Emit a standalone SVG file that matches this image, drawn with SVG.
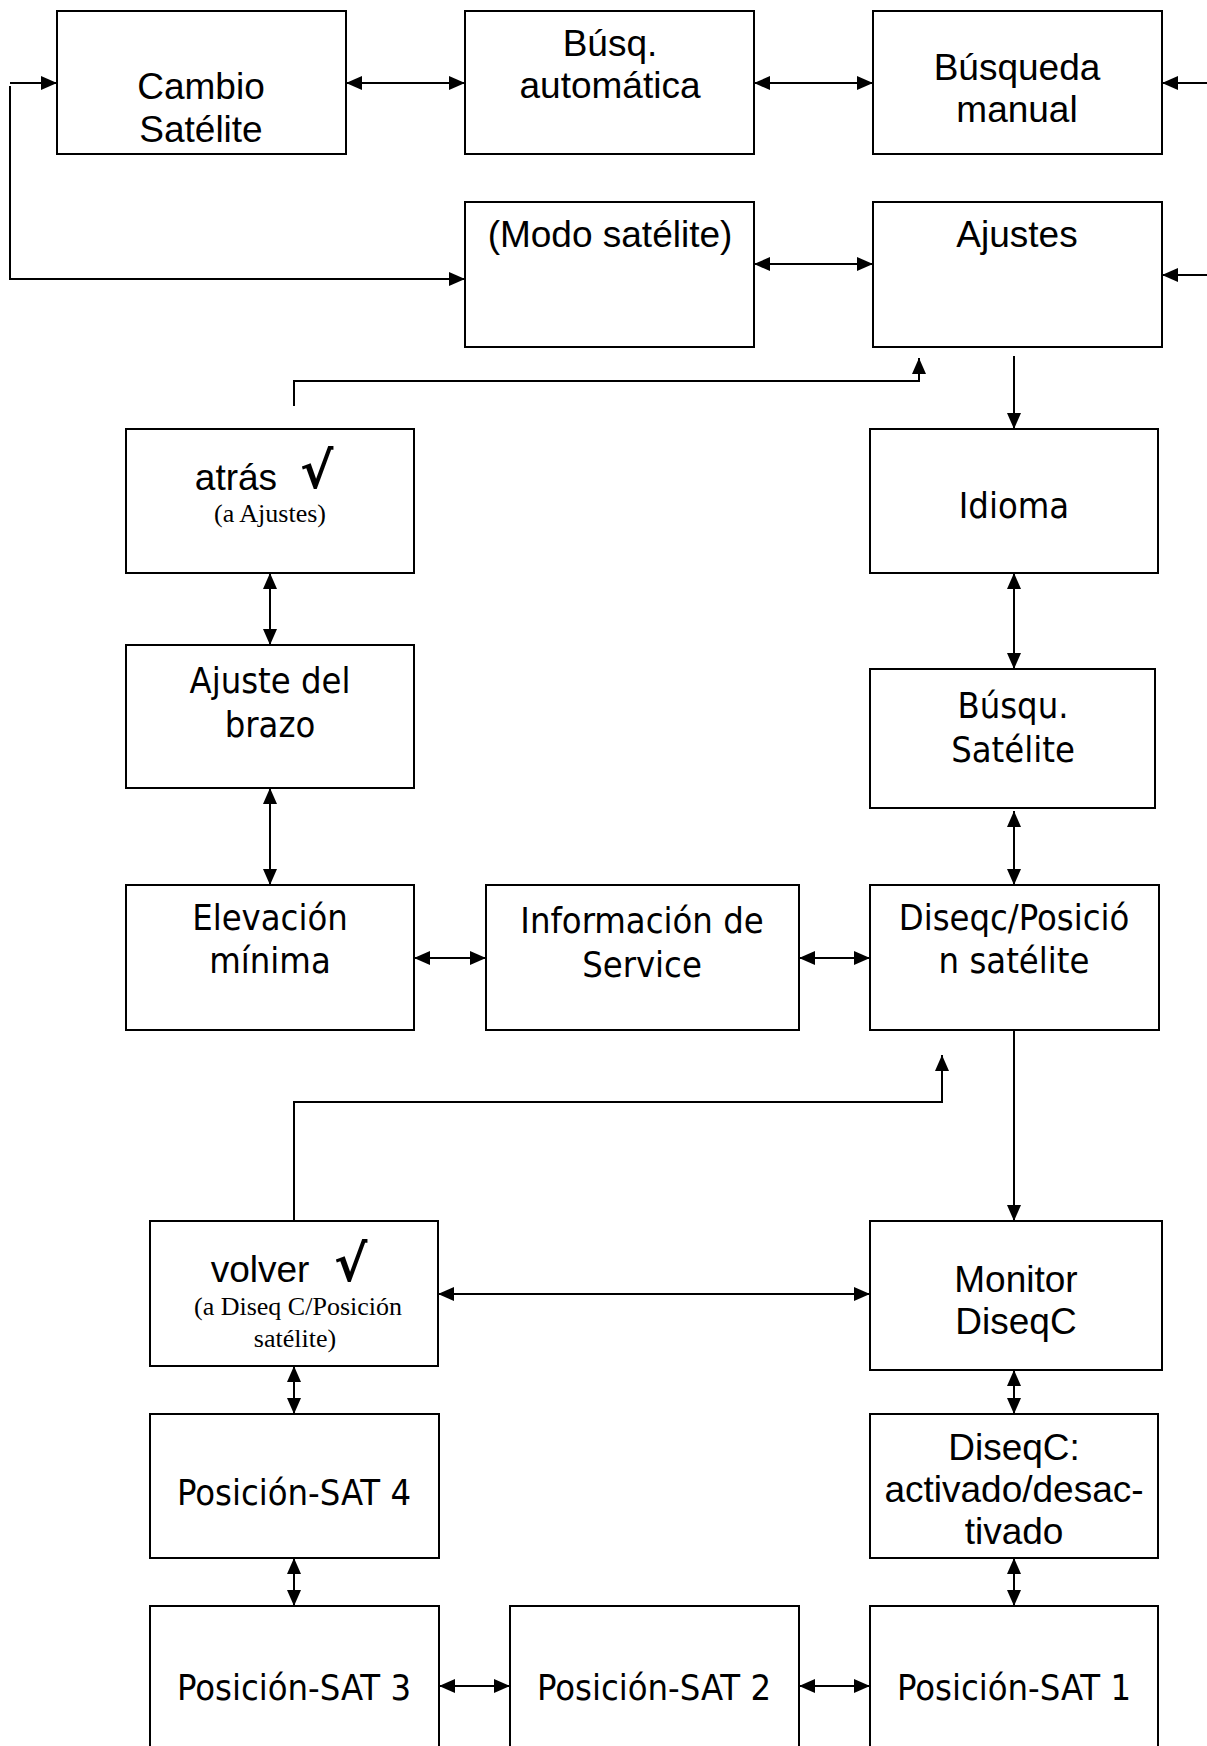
<svg xmlns="http://www.w3.org/2000/svg" width="1207" height="1746" viewBox="0 0 1207 1746">
<defs>
<style>
.box{fill:#fff;stroke:#000;stroke-width:2}
.ln{fill:none;stroke:#000;stroke-width:2}
.a{font-family:"Liberation Sans",Arial,sans-serif;font-size:37px;fill:#000;text-anchor:middle}
.t{font-family:"DejaVu Sans Condensed","DejaVu Sans",sans-serif;font-stretch:condensed;font-size:36px;fill:#000;text-anchor:middle}
.s{font-family:"Liberation Serif","Times New Roman",serif;font-size:26px;fill:#000;text-anchor:middle}
.ck{font-family:"DejaVu Sans",sans-serif;font-size:50px;font-weight:bold;fill:#000}
</style>
<marker id="ah" markerUnits="userSpaceOnUse" markerWidth="18" markerHeight="16" refX="16" refY="8" orient="auto-start-reverse">
<path d="M0,1 L16,8 L0,15 z" fill="#000"/>
</marker>
</defs>
<rect width="1207" height="1746" fill="#fff"/>
<g id="connectors">
<path class="ln" d="M10,83 L57,83" marker-end="url(#ah)"/>
<path class="ln" d="M10,86 L10,279 L465,279" marker-end="url(#ah)"/>
<path class="ln" d="M346,83 L465,83" marker-start="url(#ah)" marker-end="url(#ah)"/>
<path class="ln" d="M754,83 L873,83" marker-start="url(#ah)" marker-end="url(#ah)"/>
<path class="ln" d="M1207,83 L1162,83" marker-end="url(#ah)"/>
<path class="ln" d="M754,264 L873,264" marker-start="url(#ah)" marker-end="url(#ah)"/>
<path class="ln" d="M1207,275 L1162,275" marker-end="url(#ah)"/>
<path class="ln" d="M294,406 L294,381 L919,381 L919,358" marker-end="url(#ah)"/>
<path class="ln" d="M1014,356 L1014,429" marker-end="url(#ah)"/>
<path class="ln" d="M1014,573 L1014,669" marker-start="url(#ah)" marker-end="url(#ah)"/>
<path class="ln" d="M270,573 L270,645" marker-start="url(#ah)" marker-end="url(#ah)"/>
<path class="ln" d="M270,788 L270,885" marker-start="url(#ah)" marker-end="url(#ah)"/>
<path class="ln" d="M1014,811 L1014,885" marker-start="url(#ah)" marker-end="url(#ah)"/>
<path class="ln" d="M414,958 L486,958" marker-start="url(#ah)" marker-end="url(#ah)"/>
<path class="ln" d="M799,958 L870,958" marker-start="url(#ah)" marker-end="url(#ah)"/>
<path class="ln" d="M1014,1030 L1014,1221" marker-end="url(#ah)"/>
<path class="ln" d="M294,1221 L294,1102 L942,1102 L942,1055" marker-end="url(#ah)"/>
<path class="ln" d="M438,1294 L870,1294" marker-start="url(#ah)" marker-end="url(#ah)"/>
<path class="ln" d="M294,1366 L294,1414" marker-start="url(#ah)" marker-end="url(#ah)"/>
<path class="ln" d="M294,1558 L294,1606" marker-start="url(#ah)" marker-end="url(#ah)"/>
<path class="ln" d="M1014,1370 L1014,1414" marker-start="url(#ah)" marker-end="url(#ah)"/>
<path class="ln" d="M1014,1558 L1014,1606" marker-start="url(#ah)" marker-end="url(#ah)"/>
<path class="ln" d="M439,1686 L510,1686" marker-start="url(#ah)" marker-end="url(#ah)"/>
<path class="ln" d="M799,1686 L870,1686" marker-start="url(#ah)" marker-end="url(#ah)"/>
</g>
<g id="cambio"><rect class="box" x="57" y="11" width="289" height="143"/><text class="a" x="201" y="99">Cambio</text><text class="a" x="201" y="142">Satélite</text></g>
<g id="busq-auto"><rect class="box" x="465" y="11" width="289" height="143"/><text class="a" x="610" y="56">Búsq.</text><text class="a" x="610" y="98">automática</text></g>
<g id="busq-manual"><rect class="box" x="873" y="11" width="289" height="143"/><text class="a" x="1017" y="80">Búsqueda</text><text class="a" x="1017" y="122">manual</text></g>
<g id="modo"><rect class="box" x="465" y="202" width="289" height="145"/><text class="a" x="610" y="247">(Modo satélite)</text></g>
<g id="ajustes"><rect class="box" x="873" y="202" width="289" height="145"/><text class="a" x="1017" y="247">Ajustes</text></g>
<g id="atras"><rect class="box" x="126" y="429" width="288" height="144"/><text class="a" x="236" y="490">atrás</text><text class="ck" x="300" y="488">√</text><text class="s" x="270" y="522">(a Ajustes)</text></g>
<g id="idioma"><rect class="box" x="870" y="429" width="288" height="144"/><text class="t" x="1014" y="518">Idioma</text></g>
<g id="brazo"><rect class="box" x="126" y="645" width="288" height="143"/><text class="t" x="270" y="693">Ajuste del</text><text class="t" x="270" y="737">brazo</text></g>
<g id="busqu-sat"><rect class="box" x="870" y="669" width="285" height="139"/><text class="t" x="1013" y="718">Búsqu.</text><text class="t" x="1013" y="762">Satélite</text></g>
<g id="elevacion"><rect class="box" x="126" y="885" width="288" height="145"/><text class="t" x="270" y="930">Elevación</text><text class="t" x="270" y="973">mínima</text></g>
<g id="info"><rect class="box" x="486" y="885" width="313" height="145"/><text class="t" x="642" y="933">Información de</text><text class="t" x="642" y="977">Service</text></g>
<g id="diseqc-pos"><rect class="box" x="870" y="885" width="289" height="145"/><text class="t" x="1014" y="930">Diseqc/Posició</text><text class="t" x="1014" y="973">n satélite</text></g>
<g id="volver"><rect class="box" x="150" y="1221" width="288" height="145"/><text class="a" x="260" y="1282">volver</text><text class="ck" x="334" y="1281">√</text><text class="s" x="298" y="1315">(a Diseq C/Posición</text><text class="s" x="295" y="1347">satélite)</text></g>
<g id="monitor"><rect class="box" x="870" y="1221" width="292" height="149"/><text class="a" x="1016" y="1292">Monitor</text><text class="a" x="1016" y="1334">DiseqC</text></g>
<g id="sat4"><rect class="box" x="150" y="1414" width="289" height="144"/><text class="t" x="294" y="1505">Posición-SAT 4</text></g>
<g id="diseqc-act"><rect class="box" x="870" y="1414" width="288" height="144"/><text class="a" x="1014" y="1460">DiseqC:</text><text class="a" x="1014" y="1502">activado/desac-</text><text class="a" x="1014" y="1544">tivado</text></g>
<g id="sat3"><rect class="box" x="150" y="1606" width="289" height="200"/><text class="t" x="294" y="1700">Posición-SAT 3</text></g>
<g id="sat2"><rect class="box" x="510" y="1606" width="289" height="200"/><text class="t" x="654" y="1700">Posición-SAT 2</text></g>
<g id="sat1"><rect class="box" x="870" y="1606" width="288" height="200"/><text class="t" x="1014" y="1700">Posición-SAT 1</text></g>
</svg>
